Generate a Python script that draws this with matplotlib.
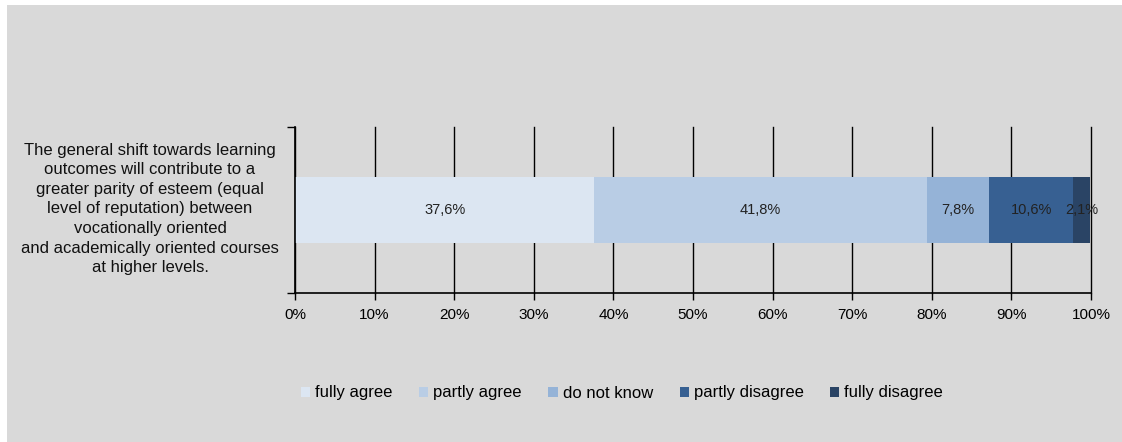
import matplotlib
matplotlib.use("Agg")
import matplotlib.pyplot as plt
from matplotlib.patches import Rectangle
from matplotlib.ticker import FuncFormatter

plt.rcParams['font.family'] = ['Liberation Sans', 'DejaVu Sans']

category = ("The general shift towards learning\noutcomes will contribute to a\n"
            "greater parity of esteem (equal\nlevel of reputation) between\n"
            "vocationally oriented\nand academically oriented courses\nat higher levels.")
series = ["fully agree", "partly agree", "do not know", "partly disagree", "fully disagree"]
values = [37.6, 41.8, 7.8, 10.6, 2.1]
colors = ["#DCE6F2", "#B9CDE5", "#95B3D7", "#376092", "#2A4465"]
xticks = [0, 10, 20, 30, 40, 50, 60, 70, 80, 90, 100]

W, H = 1122, 442
fig = plt.figure(figsize=(W / 100, H / 100), dpi=100)
fig.patch.set_facecolor("white")
fig.patches.append(Rectangle((7 / W, 0), 1, 1 - 5 / H, transform=fig.transFigure,
                             facecolor="#D9D9D9", edgecolor="none", zorder=-10))

ax = fig.add_axes([295 / W, 1 - 293 / H, (1091 - 295) / W, (293 - 127) / H])
ax.set_facecolor("none")

left = 0
for name, v, c in zip(series, values, colors):
    ax.barh(0, v, left=left, height=0.4, color=c, label=name, zorder=3)
    ax.text(left + v / 2, 0, f"{v:.1f}%".replace(".", ","), ha="center", va="center",
            fontsize=10.5, color="#222222", zorder=4)
    left += v

ax.set_xlim(0, 100)
ax.set_ylim(-0.5, 0.5)
ax.set_xticks(xticks)
ax.xaxis.set_major_formatter(FuncFormatter(lambda x, p: f"{x:.0f}%"))
ax.set_yticks([-0.5, 0.5])
ax.set_yticklabels(["", ""])
ax.tick_params(axis="x", direction="out", length=5, width=1, labelsize=11, pad=6, colors="#000000")
ax.tick_params(axis="y", direction="out", length=6, width=1)
ax.grid(axis="x", color="black", linewidth=1, zorder=0)
for gl in ax.get_xgridlines():
    gl.set_clip_on(False)
for s in ("top", "right"):
    ax.spines[s].set_visible(False)
for s in ("left", "bottom"):
    ax.spines[s].set_linewidth(1.2)
    ax.spines[s].set_zorder(5)

fig.text(150 / W, 1 - 209 / H, category, ha="center", va="center", fontsize=12,
         linespacing=1.38, color="#111111")

fig.legend(loc="center", bbox_to_anchor=(622 / W, 1 - 393 / H), ncol=5, frameon=False,
           fontsize=12, handlelength=0.55, handleheight=0.55, handletextpad=0.3,
           columnspacing=1.6)

fig.savefig("out.png", dpi=100, facecolor=fig.get_facecolor())
